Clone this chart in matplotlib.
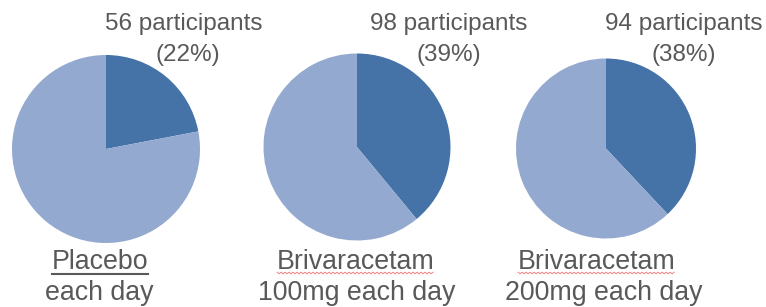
import matplotlib
matplotlib.use("Agg")
import matplotlib.pyplot as plt
from matplotlib.lines import Line2D
import numpy as np

plt.rcParams['font.family'] = ['Liberation Sans', 'DejaVu Sans']

# Data
groups_line1 = ["Placebo", "Brivaracetam", "Brivaracetam"]
groups_line2 = ["each day", "100mg each day", "200mg each day"]
participants = [56, 98, 94]
percents = [22, 39, 38]

dark = "#4572A7"
light = "#93A9CF"
textc = "#595959"

W, H = 766, 307
fig = plt.figure(figsize=(W / 100, H / 100), dpi=100)

# layout (pixels): pie centers, radii
centers = [(106, 149), (357, 147), (606, 148.5)]
radii = [94, 93.5, 90]
top_x1 = [184, 449, 683.5]
top_x2 = [188, 449, 684]
bot_x1 = [100, 356, 597]
bot_x2 = [99, 357, 604]

fs_top = 17.5
fs_bot = 19.3
for i in range(3):
    cx, cy = centers[i]
    r = radii[i]
    ax = fig.add_axes([(cx - r) / W, (H - cy - r) / H, 2 * r / W, 2 * r / H])
    ax.pie([percents[i], 100 - percents[i]], colors=[dark, light],
           startangle=90, counterclock=False, radius=1,
           wedgeprops=dict(linewidth=0))
    ax.set_xlim(-1, 1)
    ax.set_ylim(-1, 1)
    ax.set_aspect('equal')
    ax.axis('off')

    fig.text(top_x1[i] / W, 1 - 30 / H, f"{participants[i]} participants",
             ha='center', va='baseline', fontsize=fs_top, color=textc)
    fig.text(top_x2[i] / W, 1 - 61 / H, f"({percents[i]}%)",
             ha='center', va='baseline', fontsize=fs_top, color=textc)
    fig.text(bot_x1[i] / W, 1 - 269 / H, groups_line1[i],
             ha='center', va='baseline', fontsize=fs_bot, color=textc)
    fig.text(bot_x2[i] / W, 1 - 300 / H, groups_line2[i],
             ha='center', va='baseline', fontsize=fs_bot, color=textc)

# underlines
fig.canvas.draw()
renderer = fig.canvas.get_renderer()
for t in fig.texts:
    s = t.get_text()
    if s in groups_line1:
        bb = t.get_window_extent(renderer)
        if s == "Placebo":
            y = (H - 273.5) / H
            fig.add_artist(Line2D([bb.x0 / W, bb.x1 / W], [y, y],
                                  transform=fig.transFigure, color=textc, lw=1.5))
        else:
            xs = np.arange(bb.x0, bb.x1, 2.0)
            ys = (H - 273) + np.where(np.arange(len(xs)) % 2 == 0, 0.8, -0.8)
            fig.add_artist(Line2D(xs / W, ys / H, transform=fig.transFigure,
                                  color="#f08080", lw=0.7))

fig.savefig("out.png", dpi=100)
